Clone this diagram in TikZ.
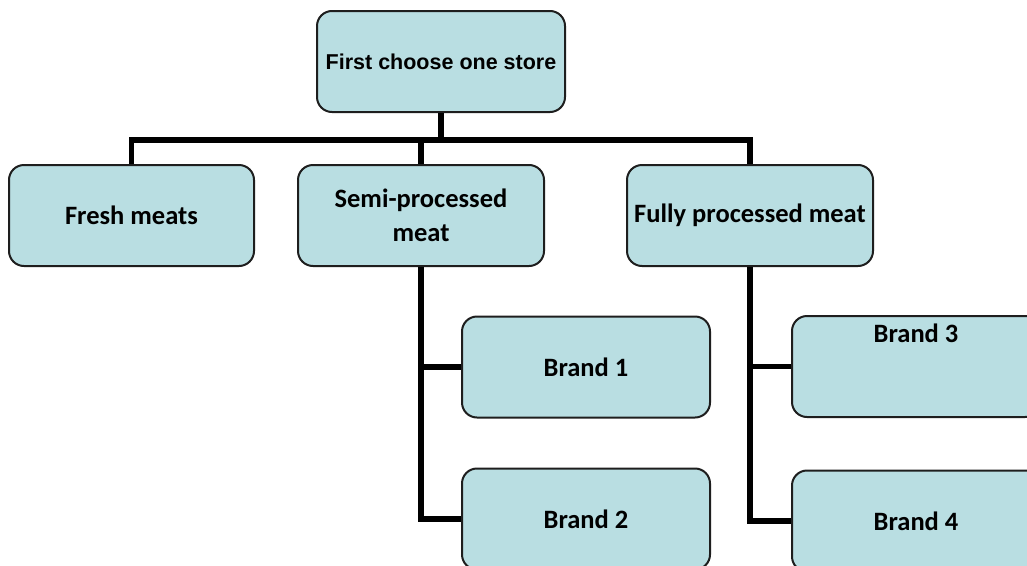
\documentclass[tikz,border=0pt]{standalone}
\usepackage{fontspec}
\setmainfont{Carlito}
\newfontfamily\arialfont{Liberation Sans}
\definecolor{boxfill}{RGB}{185,222,226}
\definecolor{boxline}{RGB}{30,30,30}
\begin{document}
\begin{tikzpicture}[x=1pt,y=-1pt,
  box/.style={draw=boxline, line width=2pt, fill=boxfill, rounded corners=15pt,
    inner sep=0pt, minimum width=246pt, minimum height=101pt, align=center,
    font=\fontsize{26.5}{34}\selectfont\bfseries},
  conn/.style={line width=5.5pt, black, line join=miter}]
\useasboundingbox (0,0) rectangle (1027,565);
\clip (0,0) rectangle (1027,565);
\fill[white] (0,0) rectangle (1027,565);
% nodes
\node[box, minimum width=248pt, font=\arialfont\fontsize{21.5}{24}\selectfont\bfseries] (top) at (441,61.5) {First choose one store};
\node[box, minimum width=245pt] (fresh) at (131.5,215.5) {Fresh meats};
\node[box] (semi) at (421,215.5) {Semi-processed\\meat};
\node[box] (fully) at (750,215.5) {Fully processed meat};
\node[box, minimum width=248pt] (b1) at (586,367) {Brand 1};
\node[box, minimum width=248pt] (b2) at (586,519) {Brand 2};
\node[box, minimum width=248pt, text height=16pt, text depth=65pt, inner ysep=10pt, minimum height=0pt] (b3) at (916,366.5) {Brand 3};
\node[box, minimum width=248pt] (b4) at (916,521) {Brand 4};
\coordinate (bar) at (441,140);
% connectors
\draw[conn] (top.south) -- (bar);
\draw[conn] (fresh.north) |- (bar) -| (fully.north);
\draw[conn] (bar) -| (semi.north);
\draw[conn] (semi.south) |- (b1.west);
\draw[conn] (semi.south) |- (b2.west);
\draw[conn] (fully.south) |- (b3.west);
\draw[conn] (fully.south) |- (b4.west);
\end{tikzpicture}
\end{document}
